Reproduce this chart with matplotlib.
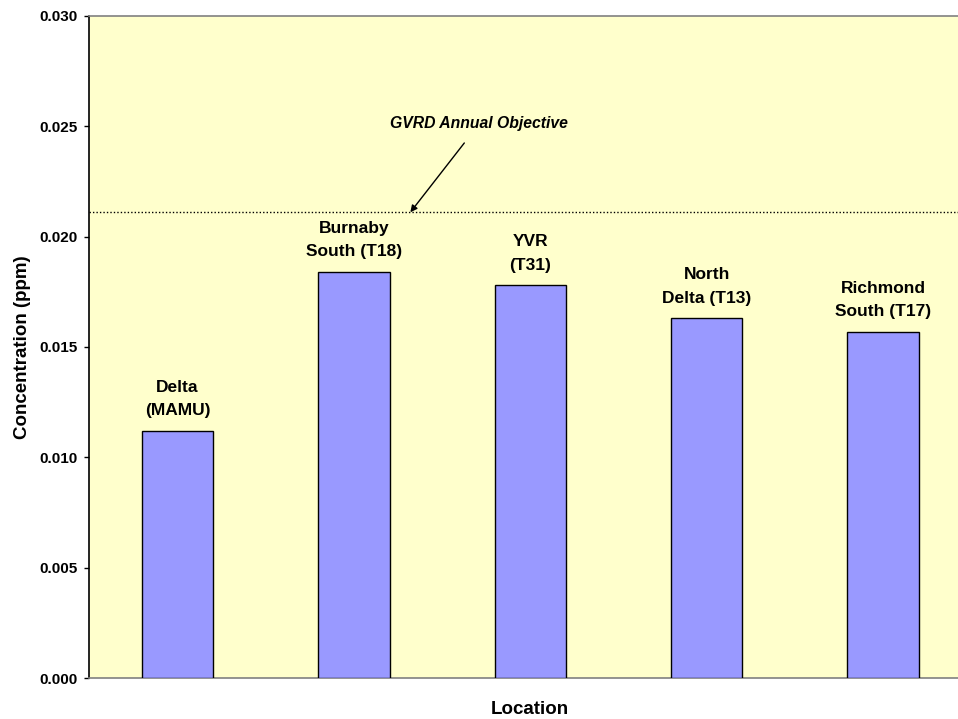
import matplotlib
matplotlib.use("Agg")
import matplotlib.pyplot as plt
from matplotlib.ticker import FormatStrFormatter, MultipleLocator

# Annual mean concentrations by monitoring station
locations = ["Delta\n(MAMU)", "Burnaby\nSouth (T18)", "YVR\n(T31)",
             "North\nDelta (T13)", "Richmond\nSouth (T17)"]
concentrations = [0.0112, 0.0184, 0.0178, 0.0163, 0.0157]
objective = 0.0211
objective_label = "GVRD Annual Objective"

plt.rcParams["font.family"] = ["Liberation Sans", "DejaVu Sans"]
plt.rcParams["font.weight"] = "bold"

fig = plt.figure(figsize=(9.58, 7.19), dpi=100)
ax = fig.add_axes([89.3 / 958, 1 - 678.3 / 719, 882 / 958, 662.6 / 719])
ax.set_facecolor("#FFFFCC")

x = list(range(len(locations)))
bars = ax.bar(x, concentrations, width=0.405, color="#9999FF",
              edgecolor="black", linewidth=1.0, zorder=3)

for xi, val, lab in zip(x, concentrations, locations):
    ax.annotate(lab, xy=(xi, val), xytext=(0, 9), textcoords="offset points",
                ha="center", va="bottom", fontsize=12.5, fontweight="bold",
                linespacing=1.7, zorder=4)

ax.axhline(objective, color="black", linestyle=(0, (1, 1.5)), linewidth=1.0, zorder=2)
ax.annotate(objective_label, xy=(1.32, objective), xytext=(1.71, 0.0251),
            ha="center", va="center", fontsize=11.3, fontweight="bold",
            fontstyle="italic",
            arrowprops=dict(arrowstyle="-|>", color="black", lw=1.0,
                            mutation_scale=10, shrinkA=8, shrinkB=0))

ax.set_xlim(-0.5, len(locations) - 0.5)
ax.set_ylim(0, 0.030)
ax.yaxis.set_major_locator(MultipleLocator(0.005))
ax.yaxis.set_major_formatter(FormatStrFormatter("%.3f"))
ax.tick_params(axis="y", direction="out", length=3.5, width=1, labelsize=11,
               pad=5)
for lbl in ax.get_yticklabels():
    lbl.set_fontweight("bold")
ax.set_xticks([])

ax.spines["left"].set_color("black")
ax.spines["left"].set_linewidth(1.2)
ax.spines["bottom"].set_color("#808080")
ax.spines["bottom"].set_linewidth(1.2)
ax.spines["top"].set_color("#808080")
ax.spines["top"].set_linewidth(1.2)
ax.spines["right"].set_visible(False)

ax.set_ylabel("Concentration (ppm)", fontsize=13.5, fontweight="bold", labelpad=6)
ax.set_xlabel("Location", fontsize=13.5, fontweight="bold", labelpad=16)

fig.savefig("out.png", dpi=100)
